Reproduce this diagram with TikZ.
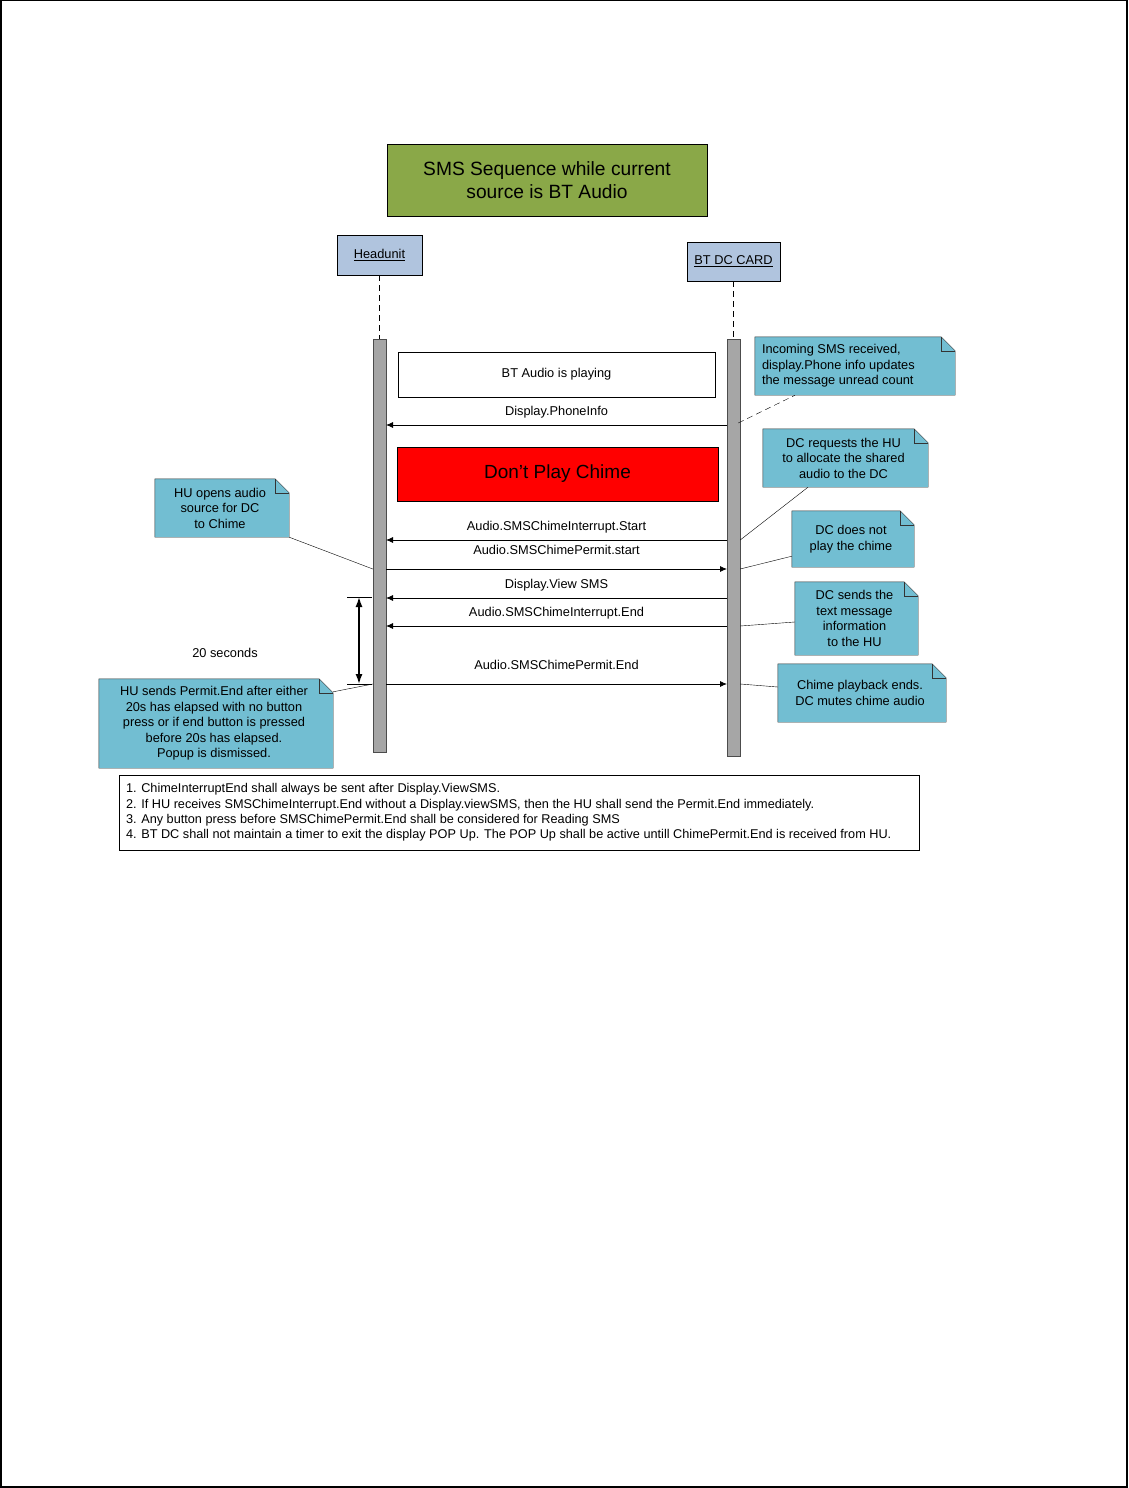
\documentclass[tikz,border=0pt]{standalone}
\usepackage{fontspec}
\setmainfont{Liberation Sans}
\usetikzlibrary{arrows.meta}
\usetikzlibrary{positioning}
\usetikzlibrary{calc}

\definecolor{titlegreen}{RGB}{138,168,72}
\definecolor{lifeblue}{RGB}{176,196,222}
\definecolor{notecyan}{RGB}{114,190,210}
\definecolor{bargrey}{RGB}{166,166,166}

\tikzset{
    msg/.style={-{Latex[length=7pt,width=6pt]}, line width=0.8pt},
    msglabel/.style={font=\fontsize{12.8}{14}\selectfont, inner sep=0pt},
    notetext/.style={font=\fontsize{12.8}{15.5}\selectfont, inner sep=0pt},
    lifebox/.style={rectangle, draw, fill=lifeblue, inner sep=0pt, font=\fontsize{12.8}{14}\selectfont},
    actbar/.style={rectangle, draw=black!70, fill=bargrey, minimum width=13pt, inner sep=0pt},
    lifeline/.style={dash pattern=on 6pt off 4pt},
}

% note with a folded corner: name, centre, width, height, text
\newcommand{\smsnote}[6][center]{
    \path (#2) node[minimum width=#3pt, minimum height=#4pt, inner sep=0pt] (#5) {};
    \filldraw[fill=notecyan, draw=black!80] (#5.north west) -- ($(#5.north east)+(-14,0)$)
        -- ($(#5.north east)+(0,14)$) -- (#5.south east) -- (#5.south west) -- cycle;
    \draw[black!80] ($(#5.north east)+(-14,0)$) -- ($(#5.north east)+(-14,14)$) -- ($(#5.north east)+(0,14)$);
    \path ($(#5.center)+(-2,0)$) node[notetext, align=#1] {#6};
}

\begin{document}
\begin{tikzpicture}[x=1pt, y=-1pt]
    \useasboundingbox (0,0) rectangle (1128,1488);
    \draw[line width=1.5pt] (0.75,0.75) rectangle (1127,1487);

    % title and lifelines
    \draw (547, 180) node[rectangle, draw, line width=0.8pt, fill=titlegreen, minimum width=320pt, minimum height=72pt,
        align=center, font=\fontsize{19.2}{23}\selectfont] (title) {SMS Sequence while current\\source is BT Audio};
    \draw (379.5, 255) node[lifebox, minimum width=85pt, minimum height=40pt] (hu) {\underline{Headunit}};
    \draw (733.5, 261.5) node[lifebox, minimum width=93pt, minimum height=39pt] (dc) {\underline{BT DC CARD}};
    \draw (379.5, 545.5) node[actbar, minimum height=413pt] (hubar) {};
    \draw (733.5, 547.5) node[actbar, minimum height=417pt] (dcbar) {};
    \draw[lifeline] (hu) -- (hubar);
    \draw[lifeline] (dc) -- (dcbar);

    \draw (556.5, 374.5) node[rectangle, draw, fill=white, minimum width=317pt, minimum height=45pt,
        font=\fontsize{12.8}{14}\selectfont] (playing) {BT Audio is playing};
    \draw (557.5, 474) node[rectangle, draw, line width=0.8pt, fill=red, minimum width=321pt, minimum height=54pt,
        font=\fontsize{19}{21}\selectfont] (nochimebox) {Don’t Play Chime};

    % messages
    \foreach \n/\y/\ly/\from/\to/\txt in {1/425/412/dc/hu/Display.PhoneInfo,
        2/540/527/dc/hu/Audio.SMSChimeInterrupt.Start,
        3/569/550/hu/dc/Audio.SMSChimePermit.start,
        4/598/585/dc/hu/Display.View SMS,
        5/626/613/dc/hu/Audio.SMSChimeInterrupt.End,
        6/684/665/hu/dc/Audio.SMSChimePermit.End}{
        \coordinate (hu\n) at (386, \y);
        \coordinate (dc\n) at (727, \y);
        \draw[msg] (\from\n) -- (\to\n);
        \draw (556.5, \ly) node[msglabel] (lbl\n) {\txt};
    }

    % notes
    \smsnote{855,366}{200}{58}{incoming}{}
    \path ($(incoming.west)+(7,0)$) node[notetext, anchor=west, align=left] (inctext)
        {Incoming SMS received,\\display.Phone info updates\\the message unread count};
    \smsnote{845.5,458}{165}{58}{dcreq}{DC requests the HU\\to allocate the shared\\audio to the DC}
    \smsnote{222,508}{134}{58}{huopen}{HU opens audio\\source for DC\\to Chime}
    \smsnote{853,539}{122}{56}{noplay}{DC does not\\play the chime}
    \smsnote{856.5,618.5}{123}{73}{dcsend}{DC sends the\\text message\\information\\to the HU}
    \smsnote{862,693}{168}{58}{chimeend}{Chime playback ends.\\DC mutes chime audio}
    \smsnote{216,723.5}{234}{89}{husend}{HU sends Permit.End after either\\20s has elapsed with no button\\press or if end button is pressed\\before 20s has elapsed.\\Popup is dismissed.}

    \draw[lifeline] ($(dcbar.east |- dc1)+(-2,-2)$) -- ($(incoming.south)+(-60,0)$);
    \draw (dcbar.east |- dc2) -- ($(dcreq.south)+(-37.5,0)$);
    \draw (hubar.west |- hu3) -- (huopen.south east);
    \draw (dcbar.east |- dc3) -- ($(noplay.south west)+(0,-11)$);
    \draw (dcbar.east |- dc5) -- ($(dcsend.west)+(0,3.5)$);
    \draw (dcbar.east |- dc6) -- ($(chimeend.west)+(0,-6)$);
    \draw (hubar.west |- hu6) -- ($(husend.north east)+(0,13)$);

    % 20 seconds window
    \coordinate (tstart) at (359, 597);
    \coordinate (tend) at (359, 684);
    \draw ($(tstart)+(-12,0)$) -- ($(tstart)+(13,0)$);
    \draw ($(tend)+(-12,0)$) -- ($(tend)+(13,0)$);
    \draw[{Latex[length=10pt,width=7pt]}-{Latex[length=10pt,width=7pt]}, line width=1.4pt] (tstart) -- (tend);
    \draw (225, 653) node[msglabel] (twenty) {20 seconds};

    % remarks
    \draw (519, 812.5) node[rectangle, draw, minimum width=800pt, minimum height=75pt, inner sep=0pt] (remarks) {};
    \draw ($(remarks.west)+(7,0)$) node[anchor=west, align=left, inner sep=0pt, font=\fontsize{12.7}{15.3}\selectfont] (remtext)
        {1. ChimeInterruptEnd shall always be sent after Display.ViewSMS.\\
         2. If HU receives SMSChimeInterrupt.End without a Display.viewSMS, then the HU shall send the Permit.End immediately.\\
         3. Any button press before SMSChimePermit.End shall be considered for Reading SMS\\
         4. BT DC shall not maintain a timer to exit the display POP Up. The POP Up shall be active untill ChimePermit.End is received from HU.};
\end{tikzpicture}
\end{document}
